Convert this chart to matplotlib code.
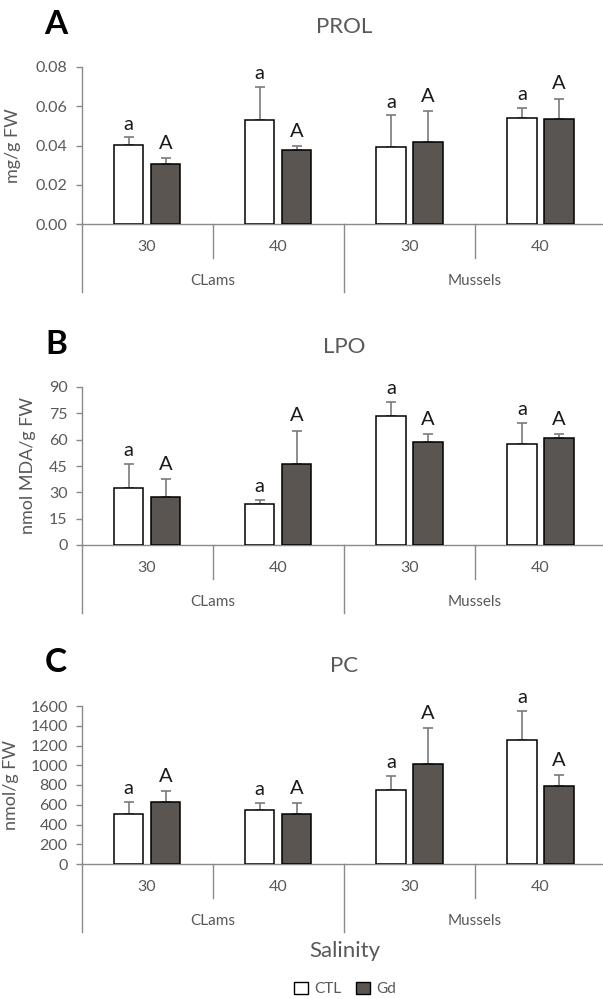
import numpy as np
import matplotlib
matplotlib.use('Agg')
import matplotlib.pyplot as plt
from matplotlib.patches import Patch

plt.rcParams['font.family'] = ['Lato', 'DejaVu Sans']

# data
salinity = ['30', '40', '30', '40']
species = ['CLams', 'Mussels']

prol_ctl = [0.0402, 0.0532, 0.0393, 0.0539]
prol_ctl_err = [0.0039, 0.0165, 0.0160, 0.0053]
prol_gd = [0.0307, 0.0375, 0.0419, 0.0537]
prol_gd_err = [0.0029, 0.0023, 0.0156, 0.0102]

lpo_ctl = [32.7, 23.2, 73.2, 57.6]
lpo_ctl_err = [13.7, 2.7, 8.2, 12.0]
lpo_gd = [27.4, 46.4, 58.7, 61.0]
lpo_gd_err = [10.2, 18.8, 4.6, 2.1]

pc_ctl = [503, 550, 749, 1255]
pc_ctl_err = [125, 71, 139, 298]
pc_gd = [628, 503, 1012, 790]
pc_gd_err = [111, 115, 362, 108]

ctl_letters = ['a', 'a', 'a', 'a']
gd_letters = ['A', 'A', 'A', 'A']

W, H = 603, 999
TXT = '#595959'
AXC = '#8a8a8a'
GD_COLOR = '#5a5550'
LEFT, RIGHT = 81.5, 606

fig = plt.figure(figsize=(W / 100, H / 100), dpi=100)


def add_panel(top_px, bottom_px, ctl, ctl_err, gd, gd_err, ymax, ystep, fmt,
              ylabel, ylabel_x, letter, title, letter_y, title_y):
    ax = fig.add_axes([LEFT / W, 1 - bottom_px / H,
                       (RIGHT - LEFT) / W, (bottom_px - top_px) / H])
    ah = bottom_px - top_px
    x = np.arange(len(ctl)) + 0.5
    off, bw = 0.141, 0.225
    ax.bar(x - off, ctl, bw, color='white', edgecolor='black', linewidth=1.1, zorder=3)
    ax.bar(x + off, gd, bw, color=GD_COLOR, edgecolor='black', linewidth=1.1, zorder=3)
    ax.errorbar(x - off, ctl, yerr=[np.zeros(len(ctl)), ctl_err], fmt='none',
                ecolor='#7a7a7a', elinewidth=1.2, capsize=3.5, capthick=1.2, zorder=2)
    ax.errorbar(x + off, gd, yerr=[np.zeros(len(gd)), gd_err], fmt='none',
                ecolor='#7a7a7a', elinewidth=1.2, capsize=3.5, capthick=1.2, zorder=2)
    for i in range(len(ctl)):
        ax.annotate(ctl_letters[i], (x[i] - off, ctl[i] + ctl_err[i]), xytext=(0, 3.5),
                    textcoords='offset points', ha='center', va='bottom',
                    fontsize=14.5, color='#1a1a1a', annotation_clip=False)
        ax.annotate(gd_letters[i], (x[i] + off, gd[i] + gd_err[i]), xytext=(0, 4.5),
                    textcoords='offset points', ha='center', va='bottom',
                    fontsize=14.5, color='#1a1a1a', annotation_clip=False)

    ax.set_xlim(0, 4)
    ax.set_ylim(0, ymax)
    ax.set_yticks(np.arange(0, ymax + ystep / 2, ystep))
    ax.yaxis.set_major_formatter(plt.FormatStrFormatter(fmt))
    ax.set_xticks([])
    for s in ['top', 'right']:
        ax.spines[s].set_visible(False)
    for s in ['left', 'bottom']:
        ax.spines[s].set_color(AXC)
        ax.spines[s].set_linewidth(1.0)
    ax.tick_params(axis='y', colors=AXC, labelcolor=TXT, labelsize=11.5, length=4,
                   width=1.0, pad=6)
    ax.set_ylabel(ylabel, fontsize=13, color=TXT)
    ax.yaxis.set_label_coords((ylabel_x - LEFT) / (RIGHT - LEFT), 0.5)

    # two-level category axis
    for k in range(5):
        depth = 68 if k % 2 == 0 else 34
        ax.plot([k, k], [0, -depth / ah], transform=ax.get_xaxis_transform(),
                color=AXC, lw=1.0, clip_on=False)
    for i, lab in enumerate(salinity):
        ax.text(x[i], -23 / ah, lab, transform=ax.get_xaxis_transform(),
                ha='center', va='center', fontsize=11.5, color=TXT)
    for j, sp in enumerate(species):
        ax.text(2 * j + 1, -57 / ah, sp, transform=ax.get_xaxis_transform(),
                ha='center', va='center', fontsize=11, color=TXT)

    fig.text(56 / W, 1 - letter_y / H, letter, fontsize=24, fontweight='bold',
             ha='center', va='center', color='black')
    fig.text(344 / W, 1 - title_y / H, title, fontsize=16, ha='center',
             va='center', color=TXT)
    return ax


add_panel(67, 224, prol_ctl, prol_ctl_err, prol_gd, prol_gd_err, 0.08, 0.02, '%.2f',
          'mg/g FW', 21, 'A', 'PROL', 24, 27)
add_panel(387, 545, lpo_ctl, lpo_ctl_err, lpo_gd, lpo_gd_err, 90, 15, '%d',
          'nmol MDA/g FW', 36, 'B', 'LPO', 344, 347)
add_panel(706, 864, pc_ctl, pc_ctl_err, pc_gd, pc_gd_err, 1600, 200, '%d',
          'nmol/g FW', 19, 'C', 'PC', 663, 666)

fig.text(345 / W, 1 - 951 / H, 'Salinity', fontsize=16, ha='center', va='center', color=TXT)

handles = [Patch(facecolor='white', edgecolor='black', linewidth=1.0),
           Patch(facecolor=GD_COLOR, edgecolor='black', linewidth=1.0)]
leg = fig.legend(handles, ['CTL', 'Gd'], loc='center', bbox_to_anchor=(345 / W, 1 - 989 / H),
                 ncol=2, frameon=False, fontsize=11, handlelength=0.9, handleheight=0.9,
                 handletextpad=0.4, columnspacing=1.0)
for t in leg.get_texts():
    t.set_color(TXT)

fig.savefig('out.png', dpi=100, facecolor='white')
